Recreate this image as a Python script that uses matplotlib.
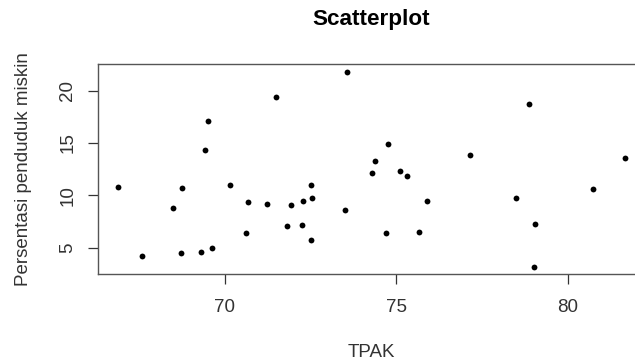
import numpy as np
import matplotlib
matplotlib.use('Agg')
from matplotlib import pyplot as plt

plt.rcParams['font.family'] = ['Liberation Sans', 'DejaVu Sans']

# TPAK vs persentase penduduk miskin
tpak = [66.89, 67.57, 68.48, 68.76, 68.72, 69.50, 69.43, 69.29, 69.63, 70.14,
        70.68, 70.60, 71.22, 71.49, 71.82, 71.92, 72.28, 72.53, 72.50, 72.25,
        72.50, 73.55, 73.51, 74.29, 74.38, 74.75, 74.71, 75.09, 75.30, 75.90,
        75.67, 77.14, 78.87, 78.50, 79.05, 79.01, 80.73, 81.67]
miskin = [10.83, 4.21, 8.82, 10.70, 4.52, 17.13, 14.36, 4.62, 4.97, 10.96,
          9.39, 6.40, 9.17, 19.36, 7.07, 9.05, 9.49, 9.72, 10.96, 7.17,
          5.74, 21.78, 8.63, 12.16, 13.25, 14.93, 6.40, 12.35, 11.85, 9.49,
          6.53, 13.83, 18.70, 9.72, 7.29, 3.19, 10.61, 13.60]
xticks = [70, 75, 80]
yticks = [5, 10, 15, 20]

fig = plt.figure(figsize=(6.35, 3.62), dpi=100)
ax = fig.add_axes([0.1543, 0.242, 1.0165 - 0.1543, 0.8224 - 0.242])

ax.plot(tpak, miskin, 'o', color='black', markersize=4.2, markeredgewidth=0)

# R style limits: 4% padding around the data range
def rlim(v):
    lo, hi = min(v), max(v)
    d = (hi - lo) * 0.04
    return lo - d, hi + d

ax.set_xlim(*rlim(tpak))
ax.set_ylim(*rlim(miskin))
ax.set_xticks(xticks)
ax.set_yticks(yticks)
ax.tick_params(axis='both', labelsize=13.5, length=7.5, width=0.9, color='#333333', labelcolor='#333333')
ax.tick_params(axis='x', pad=10)
ax.tick_params(axis='y', pad=8)
for lab in ax.get_yticklabels():
    lab.set_rotation(90)
    lab.set_va('center')
for s in ax.spines.values():
    s.set_color('#555555')
    s.set_linewidth(1.0)

ax.set_xlabel('TPAK', fontsize=13.5, color='#333333', labelpad=20.5)
ax.set_ylabel('Persentasi penduduk miskin', fontsize=13.5, color='#333333', labelpad=20)
fig.text(0.584, 0.945, 'Scatterplot', fontsize=16.2, fontweight='bold', ha='center', va='center')

fig.savefig('out.png', dpi=100)
